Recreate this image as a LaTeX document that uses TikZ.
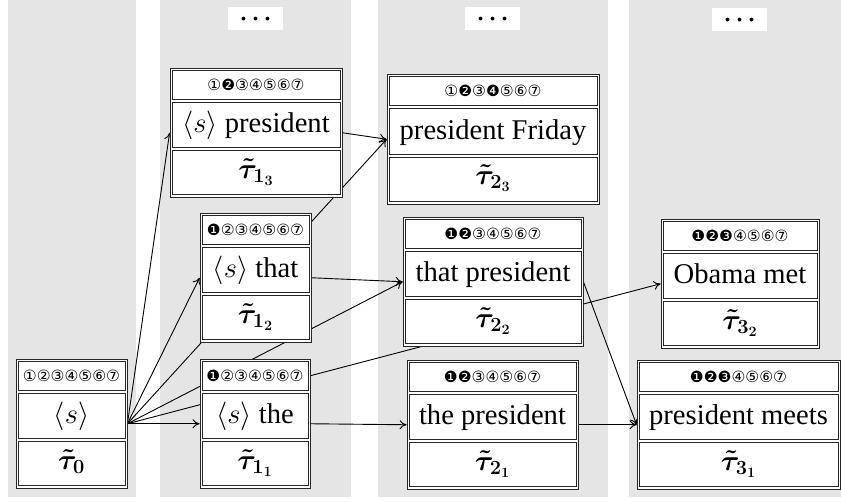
\RequirePackage{fix-cm}
\documentclass[tikz,border=0pt]{standalone}
\usepackage[no-math]{fontspec}
\setmainfont{Liberation Serif}
\newfontfamily\circfont{DejaVu Sans}
\usepackage{bm}
\usetikzlibrary{arrows.meta,calc}
\definecolor{colbg}{RGB}{229,229,229}
\pgfdeclarelayer{bgcols}
\pgfdeclarelayer{edges}
\pgfsetlayers{bgcols,edges,main}
\tikzset{
  boxline/.style={draw=black!85, line width=0.8pt},
  outerbox/.style={boxline, fill=white, inner sep=0pt, minimum height=129.5pt, rectangle},
  txt/.style={inner sep=0pt, font=\fontsize{28.6}{34}\selectfont},
  circs/.style={inner sep=0pt, font=\circfont\fontsize{15.5}{17}\selectfont},
  edge/.style={line width=0.9pt, -{To[length=7pt,width=9pt]}},
  dotsbox/.style={fill=white, inner sep=0pt, minimum width=55pt, minimum height=23pt},
  dotstxt/.style={inner sep=0pt, anchor=base, font=\fontsize{32}{32}\selectfont},
}
\newcommand\tbox[7]{%
  \node[outerbox, minimum width=#4] (#1) at (#2, #3+64.75) {};
  \draw[boxline] ($(#1.north west)+(2.5,2.5)$) rectangle ($(#1.north east)+(-2.5,31.5)$);
  \draw[boxline] ($(#1.north west)+(2.5,34.5)$) rectangle ($(#1.north east)+(-2.5,80)$);
  \draw[boxline] ($(#1.north west)+(2.5,83)$) rectangle ($(#1.north east)+(-2.5,127)$);
  \node[circs] at ($(#1.north)+(0,17)$) {#5};
  \node[txt, anchor=base] at ($(#1.north)+(0,65)$) {#6};
  \node[txt, anchor=base] at ($(#1.north)+(0,110.5)$) {#7};
}
\begin{document}
\begin{tikzpicture}[x=1pt, y=-1pt]
\useasboundingbox (0,0) rectangle (841,501);
\begin{pgfonlayer}{bgcols}
  \fill[colbg] (8,0) rectangle (136,497);
  \fill[colbg] (160,0) rectangle (351,497);
  \fill[colbg] (378,0) rectangle (608,497);
  \fill[colbg] (629,0) rectangle (841,497);
\end{pgfonlayer}
\node[dotsbox] (d1) at (255.5,18.5) {};
\node[dotstxt] at ($(d1.center)+(0,1.5)$) {.\kern4pt.\kern4pt.};
\node[dotsbox] (d2) at (492.5,18.5) {};
\node[dotstxt] at ($(d2.center)+(0,1.5)$) {.\kern4pt.\kern4pt.};
\node[dotsbox] (d3) at (739.5,19.5) {};
\node[dotstxt] at ($(d3.center)+(0,1.5)$) {.\kern4pt.\kern4pt.};

\tbox{t0}{71.5}{359}{111}{①②③④⑤⑥⑦}{$\langle s\rangle$}{$\bm{\tilde{\tau}_{0}}$}
\tbox{t11}{255}{359}{110}{❶②③④⑤⑥⑦}{$\langle s\rangle$ the}{$\bm{\tilde{\tau}_{1_1}}$}
\tbox{t12}{255.5}{213}{111}{❶②③④⑤⑥⑦}{$\langle s\rangle$ that}{$\bm{\tilde{\tau}_{1_2}}$}
\tbox{t13}{256}{68}{172}{①❷③④⑤⑥⑦}{$\langle s\rangle$ president}{$\bm{\tilde{\tau}_{1_3}}$}
\tbox{t23}{493}{74.5}{212}{①❷③❹⑤⑥⑦}{president Friday}{$\bm{\tilde{\tau}_{2_3}}$}
\tbox{t22}{493}{217}{180}{❶❷③④⑤⑥⑦}{that president}{$\bm{\tilde{\tau}_{2_2}}$}
\tbox{t21}{492.5}{360}{171}{❶❷③④⑤⑥⑦}{the president}{$\bm{\tilde{\tau}_{2_1}}$}
\tbox{t32}{740}{219}{158}{❶❷❸④⑤⑥⑦}{Obama met}{$\bm{\tilde{\tau}_{3_2}}$}
\tbox{t31}{738.5}{360}{203}{❶❷❸④⑤⑥⑦}{president meets}{$\bm{\tilde{\tau}_{3_1}}$}

\begin{pgfonlayer}{edges}
  \draw[edge] (t0.east) -- (t11.west);
  \draw[edge] (t0.east) -- (t12.west);
  \draw[edge] (t0.east) -- (t13.west);
  \draw[edge] (t0.east) -- (t23.west);
  \draw[edge] (t0.east) -- (t22.west);
  \draw[edge] (t0.east) -- (t32.west);
  \draw[edge] (t13.east) -- (t23.west);
  \draw[edge] (t12.east) -- (t22.west);
  \draw[edge] (t11.east) -- (t21.west);
  \draw[edge] (t21.east) -- (t31.west);
  \draw[edge] (t22.east) -- (t31.west);
\end{pgfonlayer}
\end{tikzpicture}
\end{document}
